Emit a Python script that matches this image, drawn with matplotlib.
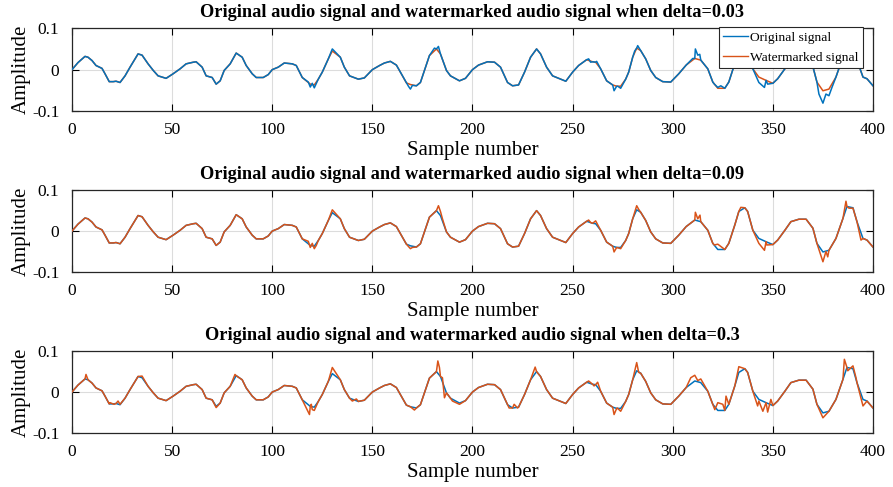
import matplotlib
matplotlib.use('Agg')
import matplotlib.pyplot as plt

plt.rcParams['font.family'] = ['Liberation Serif', 'DejaVu Serif']

# smooth signal (sample, amplitude)
base_t = [0, 3, 6.5, 8, 10, 12, 15, 16.5, 18.6, 20.6, 22, 24, 26.5, 29, 33, 35, 38, 40.6, 43, 47,
          50.5, 54, 57, 60.6, 62, 65, 67, 70, 72, 74, 76, 79, 82, 85, 87, 90, 92, 95.5, 98,
          100, 103, 106, 110, 112, 115, 119, 121, 123, 125, 128, 130, 134, 136, 138.6, 143, 146,
          150, 153.6, 156, 159, 162, 164, 167, 169, 172, 174, 176, 178.5, 182, 184, 187, 189, 193.5, 196.5,
          200, 203, 207.5, 211, 214, 217.5, 220, 223, 226, 229, 232, 234, 237, 240, 243, 246.6,
          250, 253, 257, 260, 261.5, 264, 267, 270, 272, 274, 276.5, 278, 280, 282, 284, 286.5, 289, 291.5, 295, 299,
          303, 306.7, 311, 314, 317.5, 320, 322.5, 326, 328, 331, 333, 336, 337.4, 340, 343, 346.6,
          350, 352.4, 356, 359, 363, 366.6, 370, 372, 375, 378, 381.5, 385, 387, 390, 392, 395, 397, 400]
base_v = [0.0, 0.017, 0.032, 0.030, 0.022, 0.010, 0.003, -0.010, -0.029, -0.029, -0.028, -0.031, -0.015, 0.006, 0.038, 0.035, 0.014, -0.002, -0.015, -0.021,
          -0.010, 0.002, 0.014, 0.018, 0.019, 0.006, -0.015, -0.019, -0.035, -0.027, -0.002, 0.014, 0.040, 0.030, 0.010, -0.010, -0.019, -0.019, -0.012,
          0.0, 0.006, 0.016, 0.014, 0.010, -0.019, -0.035, -0.037, -0.023, -0.006, 0.026, 0.045, 0.030, 0.006, -0.015, -0.023, -0.020,
          0.0, 0.010, 0.016, 0.020, 0.011, -0.006, -0.032, -0.036, -0.039, -0.031, -0.002, 0.034, 0.050, 0.038, -0.002, -0.015, -0.027, -0.021,
          0.0, 0.011, 0.019, 0.018, 0.006, -0.031, -0.039, -0.037, -0.006, 0.030, 0.050, 0.038, 0.006, -0.015, -0.021, -0.028,
          -0.006, 0.010, 0.024, 0.019, 0.018, 0.002, -0.027, -0.037, -0.040, -0.040, -0.023, -0.006, 0.030, 0.052, 0.046, 0.026, -0.002, -0.019, -0.029, -0.030,
          -0.010, 0.011, 0.027, 0.023, 0.002, -0.030, -0.045, -0.045, -0.030, 0.015, 0.048, 0.057, 0.048, 0.002, -0.018, -0.026,
          -0.033, -0.022, 0.002, 0.023, 0.029, 0.029, 0.007, -0.030, -0.051, -0.047, -0.018, 0.031, 0.060, 0.057, 0.023, -0.018, -0.022, -0.039]

# jagged points of the noisy line in each panel
spk1_t = [118, 119, 120, 121, 130, 168, 169, 170, 181, 183, 258, 259, 262, 270.7, 272.5, 274, 281, 282.5,
          310, 311.3, 312.5, 313.5, 320.8, 322.5, 324, 343, 345.8, 347.4, 373, 375, 376.5, 378, 379.5]
spk1_v = [-0.030, -0.042, -0.033, -0.044, 0.050, -0.040, -0.047, -0.038, 0.052, 0.056, 0.026, 0.018, 0.020, -0.051, -0.040, -0.045, 0.045, 0.058,
          0.027, 0.050, 0.035, 0.037, -0.035, -0.043, -0.039, -0.031, -0.043, -0.035, -0.059, -0.081, -0.059, -0.063, -0.043]

spk2_t = [118, 119, 120, 121, 122, 130, 169, 170, 183, 184, 185, 258, 259, 261.5, 270.7, 272, 274, 282, 283,
          311.3, 312.5, 313.6, 320.8, 322.5, 334, 343, 345.8, 347, 375, 376.5, 377.4, 386.5, 388, 390, 394]
spk2_v = [-0.025, -0.040, -0.030, -0.043, -0.035, 0.052, -0.043, -0.040, 0.062, 0.048, 0.030, 0.027, 0.021, 0.025, -0.051, -0.040, -0.043, 0.062, 0.053,
          0.046, 0.030, 0.039, -0.034, -0.032, 0.058, -0.030, -0.047, -0.034, -0.075, -0.050, -0.063, 0.073, 0.056, 0.056, -0.022]

spk3_t = [7, 8, 19, 21, 23, 24, 35, 72, 81.4, 118.6, 119.5, 120, 121, 130, 140, 142, 171, 182.7, 183.5, 185, 186, 190, 193.5,
          218.3, 220.8, 222.5, 231.3, 258, 260.7, 262.5, 270.7, 272.3, 274, 282, 283,
          309, 311, 312.5, 314, 321, 322.5, 325, 326.6, 333, 342.4, 343, 345, 346, 347.4, 349,
          375, 376.5, 385.7, 387.4, 390, 391.5, 395, 397]
spk3_v = [0.043, 0.030, -0.026, -0.030, -0.022, -0.030, 0.039, -0.038, 0.043, -0.055, -0.030, -0.043, -0.045, 0.060, -0.022, -0.017, -0.044, 0.076, 0.060, 0.035, -0.014, -0.022, -0.030,
          -0.039, -0.030, -0.039, 0.061, 0.027, 0.015, 0.024, -0.055, -0.039, -0.047, 0.072, 0.048,
          0.035, 0.041, 0.028, 0.032, -0.043, -0.026, -0.030, -0.010, 0.062, -0.034, -0.022, -0.047, -0.034, -0.049, -0.018,
          -0.063, -0.055, 0.080, 0.052, 0.064, 0.035, -0.034, -0.022]

deltas = ['0.03', '0.09', '0.3']

BLUE = '#0072BD'
ORANGE = '#D95319'


def noisy(spk_t, spk_v):
    # base points with the read spikes put in (spike wins on the same sample)
    pts = dict(zip(base_t, base_v))
    pts.update(dict(zip(spk_t, spk_v)))
    ts = sorted(pts)
    return ts, [pts[t] for t in ts]


def style_axes(ax, delta):
    ax.set_xlim(0, 400)
    ax.set_ylim(-0.1, 0.1)
    ax.set_xticks(range(0, 401, 50))
    ax.set_yticks([-0.1, 0, 0.1])
    ax.set_yticklabels(['-0.1', '0', '0.1'])
    ax.grid(True, color='#dcdcdc', linewidth=0.8)
    ax.set_axisbelow(True)
    ax.tick_params(direction='in', top=True, right=True, length=5, width=0.8, labelsize=12.5)
    ax.tick_params(axis='x', pad=8)
    ax.tick_params(axis='y', pad=9)
    for s in ax.spines.values():
        s.set_linewidth(0.9)
        s.set_color('#262626')
    ax.set_title(f'Original audio signal and watermarked audio signal when delta={delta}',
                 fontsize=13.2, fontweight='bold', pad=8)
    ax.set_xlabel('Sample number', fontsize=15, labelpad=2)
    ax.set_ylabel('Amplitude', fontsize=15, labelpad=1)


fig = plt.figure(figsize=(8.93, 4.87), dpi=100)
boxes = [[0.0806, 0.772, 0.897, 0.170],
         [0.0806, 0.4415, 0.897, 0.168],
         [0.0806, 0.111, 0.897, 0.168]]

# panel 1: original is the jagged one, drawn on top
ax = fig.add_axes(boxes[0])
n_t, n_v = noisy(spk1_t, spk1_v)
ax.plot(base_t, base_v, color=ORANGE, linewidth=1.1, zorder=3)
ax.plot(n_t, n_v, color=BLUE, linewidth=1.1, zorder=4)
style_axes(ax, deltas[0])
h1, = ax.plot([], [], color=BLUE, linewidth=1.0, label='Original signal')
h2, = ax.plot([], [], color=ORANGE, linewidth=1.0, label='Watermarked signal')
leg = ax.legend(handles=[h1, h2], loc='upper right', bbox_to_anchor=(0.9875, 1.01), borderaxespad=0,
                fontsize=9.7, fancybox=False, framealpha=1, edgecolor='#262626',
                handlelength=1.8, handletextpad=0.2, borderpad=0.3, labelspacing=0.55)
leg.get_frame().set_linewidth(0.8)
leg.set_zorder(10)

# panels 2 and 3: watermarked is the jagged one
for i, (st, sv) in enumerate([(spk2_t, spk2_v), (spk3_t, spk3_v)], start=1):
    ax = fig.add_axes(boxes[i])
    n_t, n_v = noisy(st, sv)
    ax.plot(base_t, base_v, color=BLUE, linewidth=1.1, zorder=3)
    ax.plot(n_t, n_v, color=ORANGE, linewidth=1.1, zorder=4)
    style_axes(ax, deltas[i])

fig.savefig('out.png', dpi=100)
